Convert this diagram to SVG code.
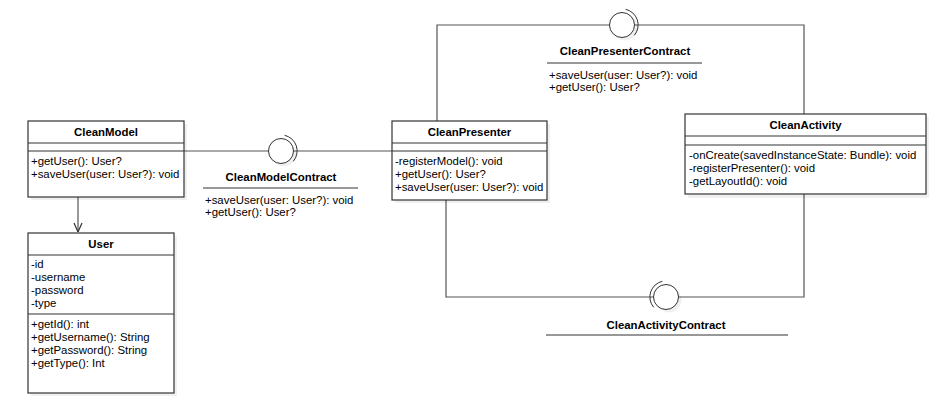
<svg xmlns="http://www.w3.org/2000/svg" width="937" height="413" viewBox="0 0 937 413">
<defs>
<style>
text{font-family:"Liberation Sans",Arial,sans-serif;font-size:11.4px;fill:#000}
.t{font-weight:bold;text-anchor:middle}
.box{fill:#fff;stroke:#333;stroke-width:1.2}
.div{stroke:#333;stroke-width:1.2}
.sh{fill:#000;fill-opacity:0.06}
.con{fill:none;stroke:#555;stroke-width:1.2}
.ifc{fill:#fff;stroke:#333;stroke-width:1}
.arc{fill:none;stroke:#333;stroke-width:1}
</style>
<marker id="open" viewBox="0 0 10 10" refX="10" refY="5" markerWidth="10" markerHeight="10" markerUnits="userSpaceOnUse" orient="auto">
<path d="M1,1 L10,5 L1,9" fill="none" stroke="#333" stroke-width="1.2"/>
</marker>
</defs>

<g id="connectors">
<line class="con" x1="78" y1="197" x2="78" y2="232" marker-end="url(#open)"/>
<line class="con" x1="184" y1="151" x2="268.5" y2="151"/>
<line class="con" x1="293.5" y1="151" x2="392" y2="151"/>
<polyline class="con" points="437,121 437,25 609.5,25"/>
<polyline class="con" points="634.5,25 804,25 804,114"/>
<polyline class="con" points="446,200 446,297 653.5,297"/>
<polyline class="con" points="678.5,297 804,297 804,194"/>
</g>

<g id="CleanModel">
<rect class="sh" x="31" y="124" width="156" height="76"/>
<rect class="box" x="28" y="121" width="156" height="76"/>
<line class="div" x1="28" y1="143" x2="184" y2="143"/>
<line class="div" x1="28" y1="151" x2="184" y2="151"/>
<text class="t" x="106" y="136">CleanModel</text>
<text x="31" y="165">+getUser(): User?</text>
<text x="31" y="178">+saveUser(user: User?): void</text>
</g>

<g id="User">
<rect class="sh" x="31" y="236" width="146" height="160"/>
<rect class="box" x="28" y="233" width="146" height="160"/>
<line class="div" x1="28" y1="255" x2="174" y2="255"/>
<line class="div" x1="28" y1="314" x2="174" y2="314"/>
<text class="t" x="101" y="248">User</text>
<text x="31" y="268">-id</text>
<text x="31" y="281">-username</text>
<text x="31" y="294">-password</text>
<text x="31" y="307">-type</text>
<text x="31" y="328">+getId(): int</text>
<text x="31" y="341">+getUsername(): String</text>
<text x="31" y="354">+getPassword(): String</text>
<text x="31" y="367">+getType(): Int</text>
</g>

<g id="CleanModelContract">
<circle class="sh" cx="284" cy="154" r="12.5"/>
<circle class="ifc" cx="281" cy="151" r="12.5"/>
<path class="arc" d="M284.6,135.3 A16,16 0 0 1 293.3,161.3"/>
<text class="t" x="281" y="180.5">CleanModelContract</text>
<line class="div" x1="203" y1="188" x2="358" y2="188"/>
<text x="205" y="204">+saveUser(user: User?): void</text>
<text x="205" y="216">+getUser(): User?</text>
</g>

<g id="CleanPresenter">
<rect class="sh" x="395" y="124" width="155" height="79"/>
<rect class="box" x="392" y="121" width="155" height="79"/>
<line class="div" x1="392" y1="143" x2="547" y2="143"/>
<line class="div" x1="392" y1="151" x2="547" y2="151"/>
<text class="t" x="469.5" y="136">CleanPresenter</text>
<text x="395" y="165">-registerModel(): void</text>
<text x="395" y="178">+getUser(): User?</text>
<text x="395" y="191">+saveUser(user: User?): void</text>
</g>

<g id="CleanPresenterContract">
<circle class="sh" cx="625" cy="28" r="12.5"/>
<circle class="ifc" cx="622" cy="25" r="12.5"/>
<path class="arc" d="M625.6,9.3 A16,16 0 0 1 634.3,35.3"/>
<text class="t" x="625" y="54.5">CleanPresenterContract</text>
<line class="div" x1="547" y1="63" x2="702" y2="63"/>
<text x="549" y="79">+saveUser(user: User?): void</text>
<text x="549" y="91">+getUser(): User?</text>
</g>

<g id="CleanActivity">
<rect class="sh" x="688" y="117" width="241" height="81"/>
<rect class="box" x="685" y="114" width="241" height="80"/>
<line class="div" x1="685" y1="136" x2="926" y2="136"/>
<line class="div" x1="685" y1="145" x2="926" y2="145"/>
<text class="t" x="805.5" y="129">CleanActivity</text>
<text x="689" y="159">-onCreate(savedInstanceState: Bundle): void</text>
<text x="689" y="172">-registerPresenter(): void</text>
<text x="689" y="185">-getLayoutId(): void</text>
</g>

<g id="CleanActivityContract">
<circle class="sh" cx="669" cy="300" r="12.5"/>
<circle class="ifc" cx="666" cy="297" r="12.5"/>
<path class="arc" d="M662.4,281.3 A16,16 0 0 0 653.7,307.3"/>
<text class="t" x="666" y="328.5">CleanActivityContract</text>
<line class="div" x1="546" y1="335" x2="788" y2="335"/>
</g>
</svg>
